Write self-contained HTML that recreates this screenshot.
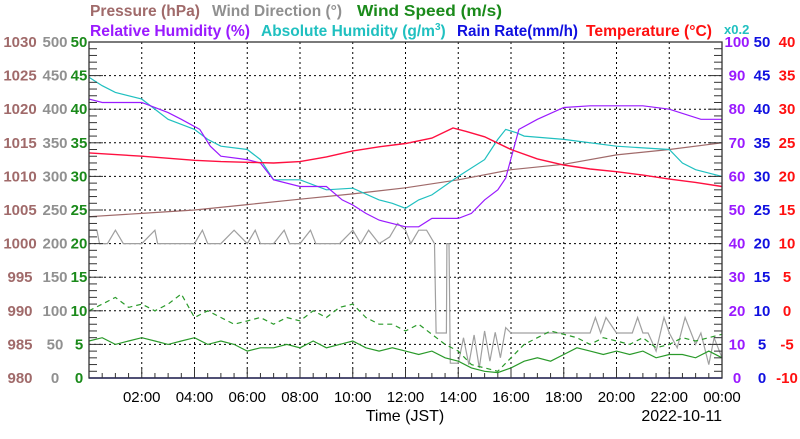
<!DOCTYPE html>
<html><head><meta charset="utf-8"><style>
body{margin:0;background:#fff;width:800px;height:434px;overflow:hidden;font-family:"Liberation Sans",sans-serif}
svg text{font-family:"Liberation Sans",sans-serif}
</style></head><body>
<svg id="chart" width="800" height="434" xmlns="http://www.w3.org/2000/svg">
<g font-size="15.5" font-weight="bold">
<text x="90" y="16" textLength="110" lengthAdjust="spacingAndGlyphs" fill="#a06a6a">Pressure (hPa)</text>
<text x="212" y="16" textLength="130" lengthAdjust="spacingAndGlyphs" fill="#909090">Wind Direction (°)</text>
<text x="357" y="16" textLength="145" lengthAdjust="spacingAndGlyphs" fill="#1a8a1a">Wind Speed (m/s)</text>
<text x="90" y="36" textLength="160" lengthAdjust="spacingAndGlyphs" fill="#9a1aff">Relative Humidity (%)</text>
<text x="261" y="36" fill="#20c0c0">Absolute Humidity (g/m<tspan font-size="10" dy="-6">3</tspan><tspan dy="6">)</tspan></text>
<text x="457" y="36" textLength="121" lengthAdjust="spacingAndGlyphs" fill="#1010e0">Rain Rate(mm/h)</text>
<text x="586" y="36" textLength="126" lengthAdjust="spacingAndGlyphs" fill="#ff1010">Temperature (°C)</text>
<text x="724" y="34" fill="#20c0c0" font-size="13">x0.2</text>
</g>
<g id="grid"></g>
<g id="series"></g>
<g id="axes"></g>
<text x="405" y="421" text-anchor="middle" font-size="16">Time (JST)</text>
<text x="722" y="421" text-anchor="end" font-size="16">2022-10-11</text>
</svg>
<script>
const xTicks=["02:00","04:00","06:00","08:00","10:00","12:00","14:00","16:00","18:00","20:00","22:00","00:00"];
const pressTicks=[980,985,990,995,1000,1005,1010,1015,1020,1025,1030];
const dirTicks=[0,50,100,150,200,250,300,350,400,450,500];
const spdTicks=[0,5,10,15,20,25,30,35,40,45,50];
const rhTicks=[0,10,20,30,40,50,60,70,80,90,100];
const rainTicks=[0,5,10,15,20,25,30,35,40,45,50];
const tempTicks=[-10,-5,0,5,10,15,20,25,30,35,40];
const tempT=[0,2,4,5,6,7,8,9,10,11,12,13,13.8,14.3,15,16,17,18,19,20,21,22,23,24];
const tempV=[23.5,23.0,22.4,22.2,22.1,22.0,22.2,22.9,23.8,24.4,24.9,25.7,27.2,26.7,25.9,24.0,22.6,21.7,21.1,20.7,20.2,19.6,19.1,18.5];
const rhT=[0,0.5,2,3,3.5,4.2,4.6,5,6,6.5,7,8,9,9.6,10,10.5,11,12,12.5,13,14,14.5,15,15.5,15.8,16.3,17,18,19,20,21,22,22.8,23.2,24];
const rhV=[83,82,82,79,77,74,69,66,65,64,59,57,57,53,51.5,49,47,45,45,47.5,47.5,49,53,56,59.5,74,77,80.5,81,81,81,80,78,77,77];
const ahT=[0,0.5,1,2,3,4,4.5,5,6,6.5,7,8,9,10,11,11.5,12,12.5,13,14,15,15.5,15.8,16.2,16.5,18,20,22,22.5,23,24];
const ahV=[17.9,17.4,17,16.6,15.4,14.8,14.2,13.8,13.6,13,11.8,11.8,11.2,11.3,10.6,10.4,10.1,10.6,10.9,12,13,14.2,14.8,14.6,14.4,14.2,13.8,13.6,12.8,12.4,12];
const presT=[0,2,4,6,8,10,12,14,16,18,20,22,24];
const presV=[1004,1004.5,1005,1005.8,1006.6,1007.4,1008.3,1009.5,1011,1011.8,1013.2,1014,1015];
const dirT=[0,0.3,0.4,0.7,1,1.3,1.4,2,2.5,2.6,3,4,4.3,4.5,5,5.5,6,6.3,6.5,7,7.4,7.6,8,8.4,8.6,9,9.5,10,10.3,10.6,11,11.4,11.7,12,12.2,12.5,12.8,13.1,13.16,13.55,13.57,13.65,13.7,14.0,14.2,14.4,14.6,14.8,15,15.2,15.4,15.6,15.8,16,16.3,16.5,17,18,19,19.2,19.4,19.6,20,20.6,20.8,21,21.2,21.5,21.8,22,22.3,22.6,23,23.2,23.5,23.7,24];
const dirV=[220,220,200,200,220,200,200,200,220,200,200,200,220,200,200,220,200,220,200,200,220,200,200,220,200,200,200,220,200,220,200,210,230,220,200,220,220,200,67,67,200,200,22,22,60,20,64,15,70,25,68,30,75,67,67,67,67,67,67,90,67,90,67,67,90,67,67,40,90,67,45,90,50,67,20,60,30];
const spdV=[5.5,6,5,5.5,6,5.5,5,5.5,6,5,5.5,5,4,4.5,4.5,5,4.5,5.5,4.5,5,5.5,4.5,4,4.5,4,3.5,4,3,2.5,1.5,1,0.8,1.5,2.5,3,2.5,3.5,4.5,4,3.5,4,3.5,4,3,3.5,3.5,3,4,3];
const gstV=[10,11,12,10.5,11,10,11,12.5,9,10,9,8,8.5,9,8,9,8.5,10,9,10.5,11,9,8,8,7,8,6.5,5,4,2,1.5,1,3,5,6,7,6.5,6,5,6,5.5,5,6,4.5,5,6,5.5,6,6.5];
const spdT=[];for(let i=0;i<spdV.length;i++)spdT.push(i*0.5);

const X0=89,X1=722,Y0=42,Y1=378,NS="http://www.w3.org/2000/svg";
const xs=h=>X0+(X1-X0)*h/24;
const yl=(v,lo,hi)=>Y1-(Y1-Y0)*(v-lo)/(hi-lo);
function mk(t,a,parent){const e=document.createElementNS(NS,t);for(const k in a)e.setAttribute(k,a[k]);parent.appendChild(e);return e;}
const grid=document.getElementById('grid'),axes=document.getElementById('axes'),ser=document.getElementById('series');
for(let i=1;i<12;i++){const x=xs(i*2);const l=mk('line',{x1:x,x2:x,y1:Y0,y2:Y1,stroke:'#000','stroke-width':1,'stroke-dasharray':'2,3'},grid);

}
for(let i=1;i<10;i++){const y=Y1-i*(Y1-Y0)/10;const l=mk('line',{x1:X0,x2:X1,y1:y,y2:y,stroke:'#000','stroke-width':1,'stroke-dasharray':'2,3'},grid);

}
const frame=mk('rect',{x:X0,y:Y0,width:X1-X0,height:Y1-Y0,fill:'none',stroke:'#333','stroke-width':1.3},axes);


for(let i=0;i<=50;i++){const y=Y1-i*(Y1-Y0)/50;const len=i%5==0?14:8;
const a=mk('line',{x1:X0,x2:X0+len,y1:y,y2:y,stroke:'#333'},axes);
const b=mk('line',{x1:X1,x2:X1-len,y1:y,y2:y,stroke:'#333'},axes);}
for(let i=1;i<48;i++){const x=xs(i*0.5);const len=i%4==0?10:5;
const t=mk('line',{x1:x,x2:x,y1:Y1,y2:Y1-len,stroke:'#333'},axes);}
xTicks.forEach((s,i)=>{const t=mk('text',{x:xs((i+1)*2),y:402,'text-anchor':'middle','font-size':15},axes);t.textContent=s;
});
function col(ticks,x,color,anchor,name){ticks.forEach((v,i)=>{const t=mk('text',{x:x,y:Y1-i*(Y1-Y0)/10+5,'text-anchor':anchor,'font-size':15,'font-weight':'bold',fill:color},axes);t.textContent=v;
});}
col(pressTicks,20,'#a06a6a','middle','pressure-tick-label');
col(dirTicks,55,'#909090','middle','direction-tick-label');
col(spdTicks,79,'#1a8a1a','middle','speed-tick-label');
col(rhTicks,737,'#9a1aff','middle','rh-tick-label');
col(rainTicks,762,'#1010e0','middle','rain-tick-label');
col(tempTicks,787,'#ff1010','middle','temp-tick-label');
function line(T,V,lo,hi,color,name,dash,w){const d=T.map((t,i)=>(i?'L':'M')+xs(t).toFixed(1)+','+yl(V[i],lo,hi).toFixed(1)).join('');
const p=mk('path',{d:d,fill:'none',stroke:color,'stroke-width':w||1.2,'stroke-dasharray':dash||'none'},ser);
}
line(dirT,dirV,0,500,'#a0a0a0','wind-direction-line');
line(spdT,gstV,0,50,'#2a9a2a','wind-gust-line','5,4');
line(spdT,spdV,0,50,'#2a9a2a','wind-speed-line');
line(presT,presV,980,1030,'#a06a6a','pressure-line');
line(ahT,ahV,0,20,'#20c0c0','absolute-humidity-line');
line(rhT,rhV,0,100,'#9a1aff','relative-humidity-line');
line(tempT,tempV,-10,40,'#ff1040','temperature-line',null,1.4);
line([0,24],[0,0],0,50,'#1010e0','rain-rate-line',null,1.5);
</script>
</body></html>
